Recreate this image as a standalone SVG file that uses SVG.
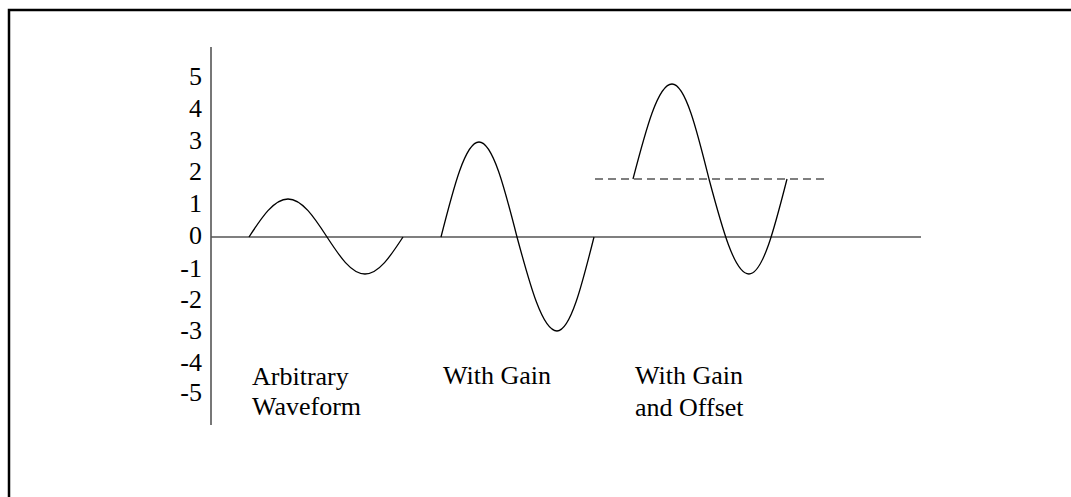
<svg xmlns="http://www.w3.org/2000/svg" width="1071" height="497" viewBox="0 0 1071 497">
  <style>
    .lbl { font-family: "Liberation Serif", "Times New Roman", serif; font-size: 26px; fill: #000; }
    .tick { text-anchor: end; }
    .axis { stroke: #555; stroke-width: 1.6; fill: none; }
    .wave { stroke: #000; stroke-width: 1.3; fill: none; stroke-linejoin: round; }
    .dash { stroke: #555; stroke-width: 1.5; stroke-dasharray: 8 5; fill: none; }
  </style>
  <rect width="1071" height="497" fill="#fff"/>
  <path d="M9,497 V10 H1071" fill="none" stroke="#000" stroke-width="2.5"/>

  <g id="axes">
    <line class="axis" x1="211" y1="47" x2="211" y2="425"/>
    <line class="axis" x1="211" y1="237" x2="921" y2="237"/>
  </g>

  <g id="ticks" class="lbl tick">
    <text x="202" y="85">5</text>
    <text x="202" y="117">4</text>
    <text x="202" y="149">3</text>
    <text x="202" y="180">2</text>
    <text x="202" y="212">1</text>
    <text x="202" y="244">0</text>
    <text x="202" y="277">-1</text>
    <text x="202" y="308">-2</text>
    <text x="202" y="339">-3</text>
    <text x="202" y="371">-4</text>
    <text x="202" y="401">-5</text>
  </g>

  <g id="arbitrary">
    <path class="wave" d="M249,237 C261.7,217.5 273.9,199 288,199 C302.1,199 314.3,217.5 327,237 C339.4,256 351.2,274 365,274 C378.8,274 390.6,256 403,237"/>
    <text class="lbl" x="252" y="385">Arbitrary</text>
    <text class="lbl" x="252" y="415">Waveform</text>
  </g>

  <g id="gain">
    <path class="wave" d="M441,237 C453.4,188.3 465.2,142 479,142 C492.8,142 504.6,188.3 517,237 C530,285.2 542.5,331 557,331 C570.4,331 581.9,285.2 594,237"/>
    <text class="lbl" x="443" y="384">With Gain</text>
  </g>

  <g id="gain-offset">
    <line class="dash" x1="595" y1="179" x2="826" y2="179"/>
    <path class="wave" d="M633,179 C645.7,130.3 657.9,84 672,84 C685.4,84 696.9,130.3 709,179 C722,227.7 734.5,274 749,274 C762.8,274 774.6,227.7 787,179"/>
    <text class="lbl" x="635" y="384">With Gain</text>
    <text class="lbl" x="635" y="416">and Offset</text>
  </g>
</svg>
